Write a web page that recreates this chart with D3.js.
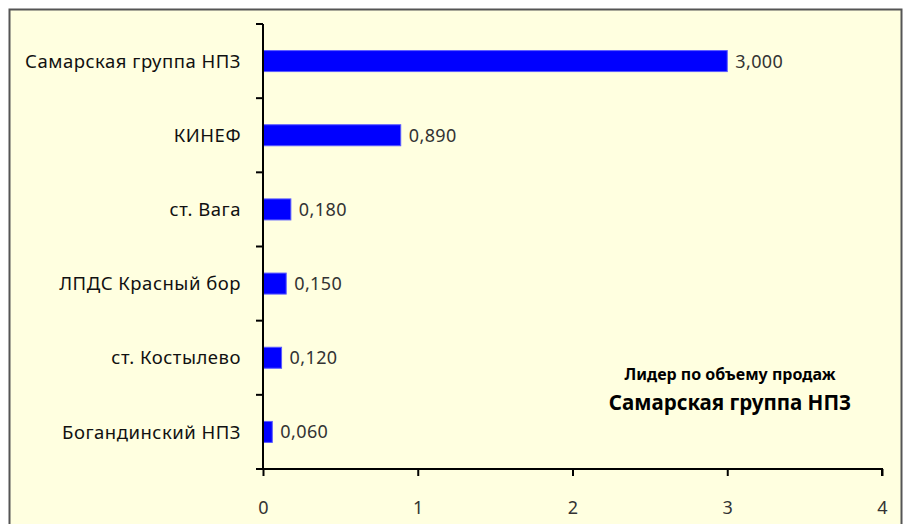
<!DOCTYPE html>
<html>
<head>
<meta charset="utf-8">
<script src="https://cdn.jsdelivr.net/npm/d3@7"></script>
<style>
    body { margin: 0; background: #ffffff; }
    svg { display: block; }
</style>
</head>
<body>
<svg id="drawing_region"></svg>
<script>
const categories = ["Самарская группа НПЗ", "КИНЕФ", "ст. Вага", "ЛПДС Красный бор", "ст. Костылево", "Богандинский НПЗ"];
const values = [3.000, 0.890, 0.180, 0.150, 0.120, 0.060];
const xTicks = [0, 1, 2, 3, 4];
const noteLines = ["Лидер по объему продаж", "Самарская группа НПЗ"];

const width = 904, height = 524;
const margin = { left: 263, right: 22, top: 24, bottom: 55 };
const font = "'Noto Sans', 'Open Sans', sans-serif";

const svg = d3.select("#drawing_region")
    .attr("width", width)
    .attr("height", height);

// chart area background with border
svg.append("rect")
    .attr("x", 9.5).attr("y", 9.5)
    .attr("width", 892).attr("height", 530)
    .attr("fill", "#ffffe0")
    .attr("stroke", "#555555")
    .attr("stroke-width", 2);

const x = d3.scaleLinear()
    .domain([0, 4])
    .range([margin.left, width - margin.right]);

const y = d3.scaleBand()
    .domain(categories)
    .range([margin.top, height - margin.bottom]);

const barH = 21;

// bars
svg.selectAll("rect.bar")
    .data(categories)
    .enter()
    .append("rect")
    .attr("class", "bar")
    .attr("x", x(0))
    .attr("y", d => y(d) + y.bandwidth() / 2 - barH / 2)
    .attr("width", (d, i) => x(values[i]) - x(0))
    .attr("height", barH)
    .attr("fill", "#0000ff")
    .attr("stroke", "#5a5aff")
    .attr("stroke-width", 1);

// value labels
svg.selectAll("text.val")
    .data(categories)
    .enter()
    .append("text")
    .attr("class", "val")
    .attr("x", (d, i) => x(values[i]) + 8)
    .attr("y", d => y(d) + y.bandwidth() / 2)
    .attr("dy", "0.36em")
    .attr("font-family", font)
    .attr("font-size", "18px")
    .attr("letter-spacing", "0.4px")
    .attr("fill", "#333333")
    .text((d, i) => d3.format(".3f")(values[i]).replace(".", ","));

// category labels
svg.selectAll("text.cat")
    .data(categories)
    .enter()
    .append("text")
    .attr("class", "cat")
    .attr("x", x(0) - 22)
    .attr("y", d => y(d) + y.bandwidth() / 2)
    .attr("dy", "0.36em")
    .attr("text-anchor", "end")
    .attr("font-family", font)
    .attr("font-size", "18.5px")
    .attr("letter-spacing", "0.5px")
    .attr("fill", "#111111")
    .text(d => d);

// y axis line and ticks at band edges
const yEdges = categories.map(d => y(d)).concat([y.range()[1]]);
svg.append("line")
    .attr("x1", x(0)).attr("x2", x(0))
    .attr("y1", margin.top).attr("y2", height - margin.bottom)
    .attr("stroke", "#000").attr("stroke-width", 2);
svg.selectAll("line.ytick")
    .data(yEdges)
    .enter()
    .append("line")
    .attr("class", "ytick")
    .attr("x1", x(0) - 7).attr("x2", x(0))
    .attr("y1", d => d).attr("y2", d => d)
    .attr("stroke", "#000").attr("stroke-width", 2);

// x axis
const xAxis = svg.append("g")
    .attr("transform", `translate(0, ${height - margin.bottom})`)
    .call(d3.axisBottom(x).tickValues(xTicks).tickSize(7).tickPadding(25).tickFormat(d3.format("d")));
xAxis.select(".domain").attr("stroke", "#000").attr("stroke-width", 2)
    .attr("d", `M${x(0) - 7},0H${x(4)}V7`);
xAxis.selectAll(".tick line").attr("stroke", "#000").attr("stroke-width", 2);
xAxis.selectAll(".tick text")
    .attr("font-family", font)
    .attr("font-size", "18px")
    .attr("fill", "#333333");

// leader note
svg.append("text")
    .attr("x", 730).attr("y", 380)
    .attr("text-anchor", "middle")
    .attr("font-family", font)
    .attr("font-size", "16px")
    .attr("font-weight", "bold")
    .attr("fill", "#000")
    .text(noteLines[0]);
svg.append("text")
    .attr("x", 730).attr("y", 410)
    .attr("text-anchor", "middle")
    .attr("font-family", font)
    .attr("font-size", "20.5px")
    .attr("font-weight", "bold")
    .attr("fill", "#000")
    .text(noteLines[1]);
</script>
</body>
</html>
